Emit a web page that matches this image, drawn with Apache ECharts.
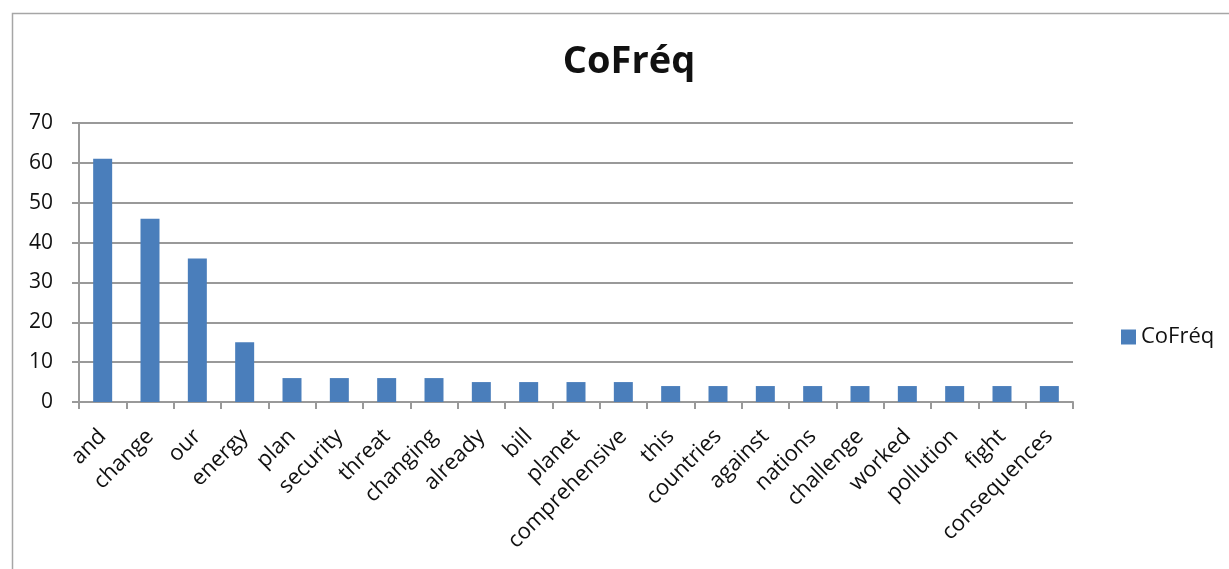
<!DOCTYPE html>
<html><head><meta charset="utf-8">
<script src="https://cdn.jsdelivr.net/npm/echarts@6/dist/echarts.min.js"></script>
<style>html,body{margin:0;padding:0;background:#fff}#c{width:1229px;height:569px}</style>
</head><body><div id="c"></div>
<script>
const categories = ["and","change","our","energy","plan","security","threat","changing","already","bill","planet","comprehensive","this","countries","against","nations","challenge","worked","pollution","fight","consequences"];
const values = [61,46,36,15,6,6,6,6,5,5,5,5,4,4,4,4,4,4,4,4,4];
const seriesName = "CoFréq";
const titleText = "CoFréq";
const yTicks = [0,10,20,30,40,50,60,70];

const chart = echarts.init(document.getElementById('c'), null, {renderer:'canvas'});
const font = "'Open Sans', 'Noto Sans', sans-serif";
chart.setOption({
  animation:false,
  backgroundColor:'#fff',
  graphic:[{type:'rect',left:10,top:11,shape:{width:1400,height:700},style:{fill:'none',stroke:'#a6a6a6',lineWidth:1.5},silent:true,z:-1}],
  title:{text:titleText,left:624,textAlign:'center',top:38,textStyle:{fontFamily:font,fontWeight:'bold',fontSize:38,color:'#111'}},
  legend:{data:[seriesName],left:1116,top:321,icon:'rect',itemWidth:15,itemHeight:15,itemGap:8,textStyle:{fontFamily:font,fontSize:22,color:'#111'}},
  grid:{left:79,right:156,top:123,height:279,containLabel:false},
  xAxis:{type:'category',data:categories,
    axisLine:{lineStyle:{color:'#999',width:2}},
    axisTick:{show:true,alignWithLabel:false,length:7,lineStyle:{color:'#999',width:2}},
    axisLabel:{rotate:45,interval:0,fontFamily:font,fontSize:22,color:'#111',margin:31}},
  yAxis:{type:'value',min:0,max:70,interval:10,
    axisLine:{show:true,lineStyle:{color:'#999',width:2}},
    axisTick:{show:true,length:7,lineStyle:{color:'#999',width:2}},
    splitLine:{lineStyle:{color:'#999',width:2}},
    axisLabel:{fontFamily:font,fontSize:21,color:'#111',margin:26,formatter:v=>yTicks.includes(v)?String(v):''}},
  series:[{name:seriesName,type:'bar',data:values,barWidth:19,itemStyle:{color:'#4a7ebb'}}]
});
</script></body></html>
